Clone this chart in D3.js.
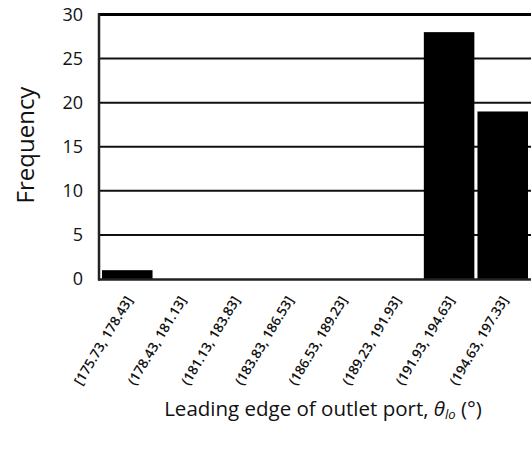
<!DOCTYPE html>
<html>
<head>
<meta charset="utf-8">
<script src="https://cdn.jsdelivr.net/npm/d3@7/dist/d3.min.js"></script>
<style>
  html, body { margin: 0; padding: 0; background: #fff; }
  svg { display: block; font-family: "Open Sans", sans-serif; }
</style>
</head>
<body>
<svg id="chart" width="531" height="452"></svg>
<script>
// Histogram bins of the leading-edge angle (degrees)
const categories = [
  "[175.73, 178.43]",
  "(178.43, 181.13]",
  "(181.13, 183.83]",
  "(183.83, 186.53]",
  "(186.53, 189.23]",
  "(189.23, 191.93]",
  "(191.93, 194.63]",
  "(194.63, 197.33]"
];
const frequencies = [1, 0, 0, 0, 0, 0, 28, 19];
const yTicks = [0, 5, 10, 15, 20, 25, 30];

const svg = d3.select("#chart");
const W = 531, H = 452;
const plot = { left: 99, right: 531, top: 14.5, bottom: 279 };

svg.append("rect").attr("width", W).attr("height", H).attr("fill", "#fff");

const y = d3.scaleLinear().domain([0, 30]).range([plot.bottom, plot.top]);
const x = d3.scaleBand()
  .domain(categories)
  .range([plot.left, plot.right])
  .paddingInner(0.058)
  .paddingOuter(0.056);

// horizontal gridlines
svg.append("g")
  .selectAll("line")
  .data(yTicks.filter(t => t > 0 && t < 30))
  .join("line")
  .attr("x1", plot.left)
  .attr("x2", W)
  .attr("y1", d => y(d))
  .attr("y2", d => y(d))
  .attr("stroke", "#111")
  .attr("stroke-width", 2);

// bars
svg.append("g")
  .selectAll("rect")
  .data(categories.map((c, i) => ({ c, v: frequencies[i] })).filter(d => d.v > 0))
  .join("rect")
  .attr("x", d => x(d.c))
  .attr("width", x.bandwidth())
  .attr("y", d => y(d.v))
  .attr("height", d => y(0) - y(d.v))
  .attr("fill", "#000");

// frame: top, left, bottom
svg.append("line")
  .attr("x1", plot.left - 1).attr("x2", W)
  .attr("y1", y(30)).attr("y2", y(30))
  .attr("stroke", "#000").attr("stroke-width", 3);
svg.append("line")
  .attr("x1", plot.left).attr("x2", plot.left)
  .attr("y1", y(30) - 1.5).attr("y2", y(0) + 1.5)
  .attr("stroke", "#222").attr("stroke-width", 2.5);
svg.append("line")
  .attr("x1", plot.left - 1).attr("x2", W)
  .attr("y1", y(0) + 0.5).attr("y2", y(0) + 0.5)
  .attr("stroke", "#222").attr("stroke-width", 2.5);

// y axis tick labels
const yAxis = d3.axisLeft(y).tickValues(yTicks).tickSize(0).tickPadding(16);
const gy = svg.append("g").attr("transform", `translate(${plot.left},0)`).call(yAxis);
gy.select(".domain").remove();
gy.selectAll("text")
  .attr("font-family", "'Open Sans', sans-serif")
  .attr("font-size", 18)
  .attr("fill", "#111");

// x axis tick labels, rotated
const xAxis = d3.axisBottom(x).tickSize(0).tickPadding(0);
const gx = svg.append("g").attr("transform", `translate(0,${plot.bottom})`).call(xAxis);
gx.select(".domain").remove();
gx.selectAll("text")
  .attr("font-family", "'Open Sans', sans-serif")
  .attr("font-size", 13.5)
  .attr("font-weight", 600)
  .attr("fill", "#111")
  .attr("text-anchor", "end")
  .attr("dy", "0")
  .attr("transform", "translate(6,21) rotate(-59)");

// axis titles
svg.append("text")
  .attr("transform", `translate(34,145) rotate(-90)`)
  .attr("text-anchor", "middle")
  .attr("font-size", 24)
  .attr("fill", "#111")
  .text("Frequency");

const xt = svg.append("text")
  .attr("x", 323)
  .attr("y", 416)
  .attr("text-anchor", "middle")
  .attr("font-size", 20.5)
  .attr("fill", "#111");
xt.append("tspan").text("Leading edge of outlet port, ");
xt.append("tspan").attr("font-style", "italic").text("θ");
xt.append("tspan").attr("font-style", "italic").attr("font-size", 13).attr("dy", 3).text("lo");
xt.append("tspan").attr("dy", -3).text(" (°)");
</script>
</body>
</html>
